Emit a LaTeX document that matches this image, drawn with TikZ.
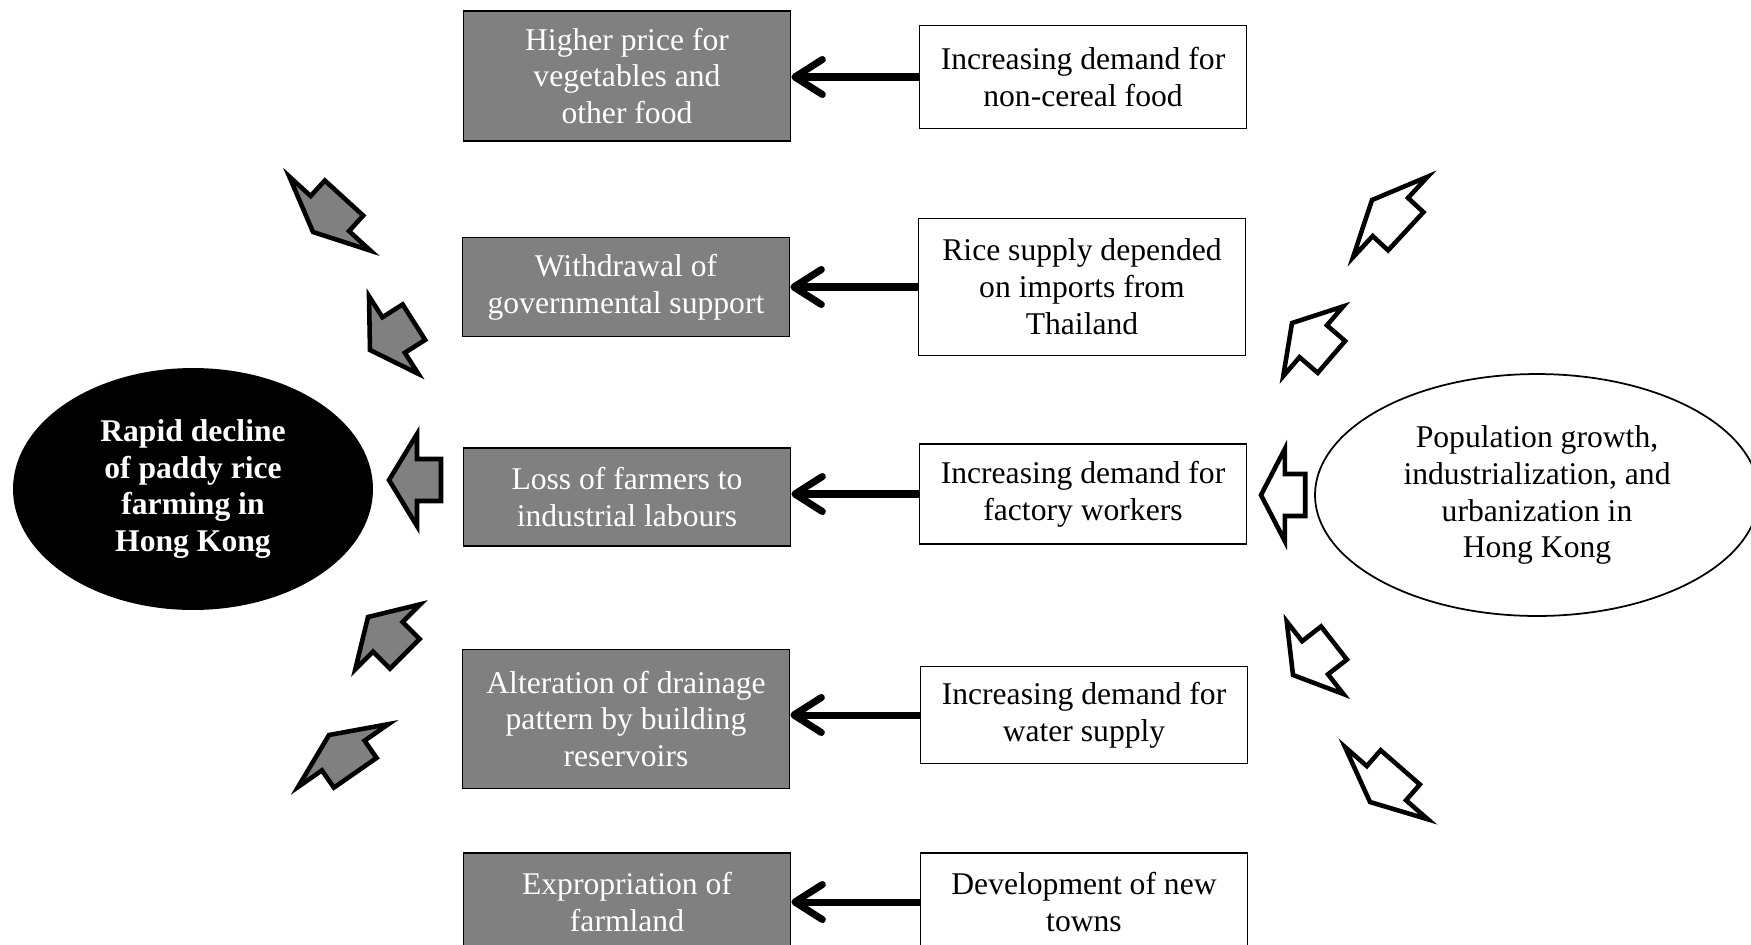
\documentclass[tikz,border=0pt]{standalone}
\usepackage{fontspec}
\setmainfont{Liberation Serif}
\usetikzlibrary{arrows.meta,shapes.geometric}
\definecolor{boxgray}{RGB}{128,128,128}

\begin{document}
\begin{tikzpicture}[
            x=0.02cm,
            y=-0.02cm,
            every node/.style={font=\fontsize{18}{21}\selectfont, align=center},
            cause/.style={draw, line width=1pt, fill=boxgray, text=white, minimum width=6.54cm},
            factor/.style={draw, line width=1pt, fill=white, minimum width=6.54cm},
            link/.style={line width=4pt, -{Straight Barb[round, length=0.55cm, width=0.7cm]}},
            blockline/.style={line width=2.6pt, line join=miter},
            pics/fatarrow/.style={code={
              \draw[blockline, fill=#1] (0,0) -- (28,-46) -- (28,-21) -- (52,-21)
                -- (52,21) -- (28,21) -- (28,46) -- cycle;}},
            pics/widearrow/.style={code={
              \draw[blockline, fill=#1] (0,0) -- (25,-55) -- (25,-26) -- (46,-26)
                -- (46,26) -- (25,26) -- (25,55) -- cycle;}},
          ]
          \useasboundingbox (0,0) rectangle (1751,944);
          \node[cause, minimum height=2.6cm] (price) at (627,76)
            {Higher price for\\vegetables and\\other food};
          \node[cause, minimum height=1.98cm] (support) at (626,287)
            {Withdrawal of\\governmental support};
          \node[cause, minimum height=1.96cm] (farmers) at (627,497)
            {Loss of farmers to\\industrial labours};
          \node[cause, minimum height=2.78cm] (drainage) at (626,719)
            {Alteration of drainage\\pattern by building\\reservoirs};
          \node[cause, minimum height=1.96cm] (farmland) at (627,902)
            {Expropriation of\\farmland};
          \node[factor, minimum height=2.06cm] (food) at (1083,77)
            {Increasing demand for\\non-cereal food};
          \node[factor, minimum height=2.74cm] (imports) at (1082,287)
            {Rice supply depended\\on imports from\\Thailand};
          \node[factor, minimum height=2cm] (workers) at (1083,494)
            {Increasing demand for\\factory workers};
          \node[factor, minimum height=1.94cm] (water) at (1084,715)
            {Increasing demand for\\water supply};
          \node[factor, minimum height=1.96cm] (towns) at (1084,902)
            {Development of new\\towns};
          \foreach \from/\to in {food/price, imports/support, workers/farmers,
                                 water/drainage, towns/farmland}
            \draw[link] (\from.west) -- (\from.west -| \to.east);
          \node[ellipse, fill=black, text=white, inner sep=0pt,
                minimum width=7.2cm, minimum height=4.84cm,
                font=\fontsize{18}{21}\selectfont\bfseries] (decline) at (193,489)
            {Rapid decline\\of paddy rice\\farming in\\Hong Kong};
          \node[ellipse, draw, line width=1pt, inner sep=0pt,
                minimum width=8.88cm, minimum height=4.84cm] (growth) at (1537,495)
            {Population growth,\\industrialization, and\\urbanization in\\Hong Kong};
          \pic[rotate=47.6] at (313,232) {widearrow=boxgray};
          \pic[rotate=32.4] at (370,350) {fatarrow=boxgray};
          \pic at (389,480) {fatarrow=boxgray};
          \pic[rotate=-45] at (368,617) {fatarrow=boxgray};
          \pic[rotate=-55.2] at (329,735) {widearrow=boxgray};
          \pic[rotate=-42.8] at (1372,200) {widearrow=white};
          \pic[rotate=-40.7] at (1292,323) {fatarrow=white};
          \pic[xscale=0.85] at (1261,495) {fatarrow=white};
          \pic[rotate=38] at (1293,675) {fatarrow=white};
          \pic[rotate=48.9] at (1370,802) {widearrow=white};
          \end{tikzpicture}
\end{document}
